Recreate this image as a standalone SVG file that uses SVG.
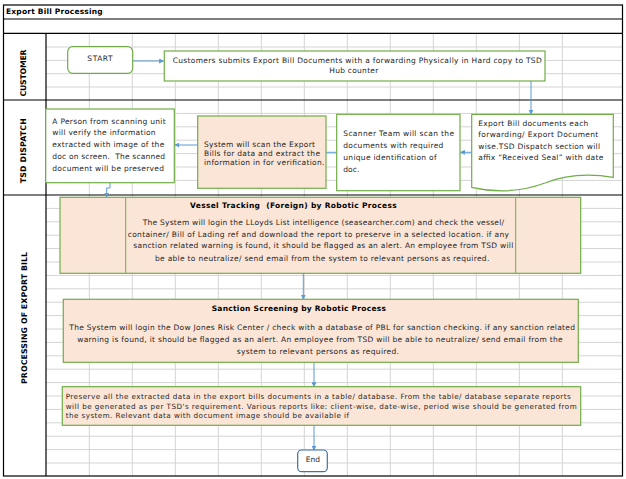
<svg xmlns="http://www.w3.org/2000/svg" width="626" height="479" viewBox="0 0 626 479">
<defs>
<style>
text{font-family:"DejaVu Sans","Liberation Sans",sans-serif;fill:#262626;font-size:7.5px}
.b{font-weight:bold;fill:#000}
.lane{font-weight:bold;fill:#000;font-size:7.8px;text-anchor:middle}
.frame{fill:none;stroke:#000;stroke-width:1.2}
.grid line{stroke:#d4d4d4;stroke-width:1}
.box{fill:#fff;stroke:#70ad47;stroke-width:1.2}
.pbox{fill:#fbe5d6;stroke:#70ad47;stroke-width:1.2}
.conn path{fill:none;stroke:#5b9bd5;stroke-width:1}
.sm{font-size:7.2px}
</style>
<marker id="ah" viewBox="0 0 8 8" refX="7" refY="4" markerWidth="5" markerHeight="5" orient="auto" markerUnits="userSpaceOnUse">
<path d="M0,0 L8,4 L0,8 Z" fill="#5b9bd5"/>
</marker>
</defs>
<rect x="0" y="0" width="626" height="479" fill="#fff"/>
<g class="grid">
<line x1="89.3" y1="33.3" x2="89.3" y2="476"/>
<line x1="132.3" y1="33.3" x2="132.3" y2="476"/>
<line x1="175.3" y1="33.3" x2="175.3" y2="476"/>
<line x1="218.3" y1="33.3" x2="218.3" y2="476"/>
<line x1="261.3" y1="33.3" x2="261.3" y2="476"/>
<line x1="304.3" y1="33.3" x2="304.3" y2="476"/>
<line x1="347.3" y1="33.3" x2="347.3" y2="476"/>
<line x1="390.3" y1="33.3" x2="390.3" y2="476"/>
<line x1="433.3" y1="33.3" x2="433.3" y2="476"/>
<line x1="476.3" y1="33.3" x2="476.3" y2="476"/>
<line x1="519.3" y1="33.3" x2="519.3" y2="476"/>
<line x1="562.3" y1="33.3" x2="562.3" y2="476"/>
<line x1="46" y1="47" x2="622.5" y2="47"/>
<line x1="46" y1="60.4" x2="622.5" y2="60.4"/>
<line x1="46" y1="73.7" x2="622.5" y2="73.7"/>
<line x1="46" y1="87" x2="622.5" y2="87"/>
<line x1="46" y1="113.4" x2="622.5" y2="113.4"/>
<line x1="46" y1="126.8" x2="622.5" y2="126.8"/>
<line x1="46" y1="140.2" x2="622.5" y2="140.2"/>
<line x1="46" y1="153.6" x2="622.5" y2="153.6"/>
<line x1="46" y1="167" x2="622.5" y2="167"/>
<line x1="46" y1="180.4" x2="622.5" y2="180.4"/>
<line x1="46" y1="208.4" x2="622.5" y2="208.4"/>
<line x1="46" y1="221.8" x2="622.5" y2="221.8"/>
<line x1="46" y1="235.2" x2="622.5" y2="235.2"/>
<line x1="46" y1="248.6" x2="622.5" y2="248.6"/>
<line x1="46" y1="262" x2="622.5" y2="262"/>
<line x1="46" y1="275.4" x2="622.5" y2="275.4"/>
<line x1="46" y1="288.8" x2="622.5" y2="288.8"/>
<line x1="46" y1="302.2" x2="622.5" y2="302.2"/>
<line x1="46" y1="315.6" x2="622.5" y2="315.6"/>
<line x1="46" y1="329" x2="622.5" y2="329"/>
<line x1="46" y1="342.4" x2="622.5" y2="342.4"/>
<line x1="46" y1="355.8" x2="622.5" y2="355.8"/>
<line x1="46" y1="369.2" x2="622.5" y2="369.2"/>
<line x1="46" y1="382.6" x2="622.5" y2="382.6"/>
<line x1="46" y1="396" x2="622.5" y2="396"/>
<line x1="46" y1="409.4" x2="622.5" y2="409.4"/>
<line x1="46" y1="422.8" x2="622.5" y2="422.8"/>
<line x1="46" y1="436.2" x2="622.5" y2="436.2"/>
<line x1="46" y1="449.6" x2="622.5" y2="449.6"/>
<line x1="46" y1="463" x2="622.5" y2="463"/>
</g>
<g id="frame">
<rect class="frame" x="3.5" y="5" width="619" height="471"/>
<line class="frame" x1="3.5" y1="19" x2="622.5" y2="19"/>
<line class="frame" x1="3.5" y1="33.3" x2="622.5" y2="33.3"/>
<line class="frame" x1="3.5" y1="100" x2="622.5" y2="100"/>
<line class="frame" x1="3.5" y1="195" x2="622.5" y2="195"/>
<line class="frame" x1="46" y1="33.3" x2="46" y2="476"/>
<text class="b" x="6" y="14.3" font-size="7.8" textLength="96.7">Export Bill Processing</text>
<text class="lane" transform="translate(26.3,73) rotate(-90)" textLength="47">CUSTOMER</text>
<text class="lane" transform="translate(26.3,150.8) rotate(-90)" textLength="65">TSD DISPATCH</text>
<text class="lane" transform="translate(26.7,318) rotate(-90)" textLength="132">PROCESSING OF EXPORT BILL</text>
</g>
<g class="conn">
<path d="M132.7,61 H163.5" marker-end="url(#ah)"/>
<path d="M531,81 V114" marker-end="url(#ah)"/>
<path d="M471.7,152.3 H460.5" marker-end="url(#ah)"/>
<path d="M336.7,152.3 H326"/>
<path d="M197.7,145 H175" marker-end="url(#ah)"/>
<path d="M110,182.7 V188 H106.7 V197" marker-end="url(#ah)"/>
<path d="M303.3,273.3 V299" marker-end="url(#ah)"/>
<path d="M314,362.3 V386.5" marker-end="url(#ah)"/>
<path d="M314,425.3 V450" marker-end="url(#ah)"/>
</g>
<g id="start">
<rect class="box" x="67.7" y="46.7" width="65" height="26.6" rx="5"/>
<text x="100" y="61" text-anchor="middle" font-size="7.8" textLength="25.3">START</text>
</g>
<g id="customers">
<rect class="box" x="164.3" y="51" width="380.7" height="30"/>
<text x="172.7" y="62.8" textLength="369">Customers submits Export Bill Documents with a forwarding Physically in Hard copy to TSD</text>
<text x="329.3" y="73.4" textLength="49">Hub counter</text>
</g>
<g id="export-doc">
<path class="box" d="M471.7,114.3 H613.3 V177.3 Q575,171 545,183 Q510,196 471.7,187.3 Z"/>
<text x="478.3" y="125.5" textLength="110">Export Bill documents each</text>
<text x="478.3" y="136.8" textLength="120">forwarding/ Export Document</text>
<text x="478.3" y="148.5" textLength="121.7">wise.TSD Dispatch section will</text>
<text x="478.3" y="160" textLength="125">affix “Received Seal” with date</text>
</g>
<g id="scanner">
<rect class="box" x="336.7" y="114.3" width="123.3" height="76.4"/>
<text x="343.3" y="136" textLength="110.7">Scanner Team will scan the</text>
<text x="343.3" y="147.8" textLength="100">documents with required</text>
<text x="343.3" y="159.5" textLength="93.3">unique identification of</text>
<text x="343.3" y="171.8" textLength="16">doc.</text>
</g>
<g id="system-scan">
<rect class="pbox" x="197.7" y="116" width="128.3" height="72.3"/>
<text x="204" y="147" textLength="111">System will scan the Export</text>
<text x="204" y="156" textLength="116">Bills for data and extract the</text>
<text x="204" y="165" textLength="120.3">information in for verification.</text>
</g>
<g id="person">
<rect class="box" x="45.7" y="109" width="128.6" height="73.7"/>
<text x="52.3" y="123.5" textLength="113.3">A Person from scanning unit</text>
<text x="52.3" y="135.4" textLength="103.3">will verify the information</text>
<text x="52.3" y="147" textLength="112">extracted with image of the</text>
<text x="52.3" y="158.8" textLength="112.7" xml:space="preserve">doc on screen.  The scanned</text>
<text x="52.3" y="170.7" textLength="111.7">document will be preserved</text>
</g>
<g id="vessel">
<rect class="pbox" x="60" y="197.3" width="520.7" height="76"/>
<line x1="125.7" y1="197.3" x2="125.7" y2="273.3" stroke="#70ad47" stroke-width="1"/>
<line x1="515.7" y1="197.3" x2="515.7" y2="273.3" stroke="#70ad47" stroke-width="1"/>
<text class="b" x="190" y="208" textLength="206.7" xml:space="preserve">Vessel Tracking  (Foreign) by Robotic Process</text>
<text x="142.7" y="225" textLength="361.3">The System will login the LLoyds List intelligence (seasearcher.com) and check the vessel/</text>
<text x="127.7" y="236.7" textLength="381.3">container/ Bill of Lading ref and download the report to preserve in a selected location. if any</text>
<text x="133.3" y="248.4" textLength="380">sanction related warning is found, it should be flagged as an alert. An employee from TSD will</text>
<text x="155" y="261" textLength="334.3">be able to neutralize/ send email from the system to relevant persons as required.</text>
</g>
<g id="sanction">
<rect class="pbox" x="63.3" y="299.3" width="515" height="63"/>
<text class="b" x="211.7" y="311" textLength="174.3">Sanction Screening by Robotic Process</text>
<text x="69.3" y="330" textLength="505.7">The System will login the Dow Jones Risk Center / check with a database of PBL for sanction checking. if any sanction related</text>
<text x="77.3" y="342" textLength="485.3">warning is found, it should be flagged as an alert. An employee from TSD will be able to neutralize/ send email from the</text>
<text x="236.7" y="353.7" textLength="162.3">system to relevant persons as required.</text>
</g>
<g id="preserve">
<rect class="pbox" x="62.3" y="386.7" width="518.4" height="38.6"/>
<text class="sm" x="65.7" y="399.4" textLength="505">Preserve all the extracted data in the export bills documents in a table/ database. From the table/ database separate reports</text>
<text class="sm" x="65.7" y="408.8" textLength="511">will be generated as per TSD's requirement. Various reports like: client-wise, date-wise, period wise should be generated from</text>
<text class="sm" x="65.7" y="418.4" textLength="283.3">the system. Relevant data with document image should be available if</text>
</g>
<g id="end">
<rect x="297.7" y="450" width="29.6" height="21.7" rx="4" fill="#fff" stroke="#41719c" stroke-width="1.2"/>
<text x="305.7" y="461.8" textLength="14.3">End</text>
</g>
</svg>
